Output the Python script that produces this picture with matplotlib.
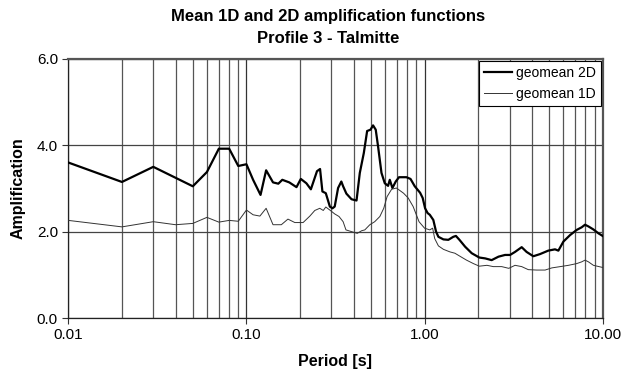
import matplotlib
matplotlib.use("Agg")
import matplotlib.pyplot as plt
from matplotlib.ticker import FixedLocator, FixedFormatter, NullFormatter

plt.rcParams["font.family"] = ["Liberation Sans", "DejaVu Sans"]

# geomean 2D (period [s], amplification)
period_2d = [0.01, 0.02, 0.03, 0.05, 0.06, 0.07, 0.08, 0.09, 0.10, 0.109,
             0.12, 0.129, 0.141, 0.151, 0.159, 0.174, 0.191, 0.202, 0.217, 0.230,
             0.249, 0.259, 0.267, 0.279, 0.294, 0.304, 0.313, 0.327, 0.341, 0.349,
             0.364, 0.389, 0.415, 0.433, 0.456, 0.476, 0.497, 0.514, 0.532, 0.548,
             0.573, 0.598, 0.624, 0.638, 0.660, 0.689, 0.719, 0.791, 0.834, 0.881,
             0.944, 0.976, 1.007, 1.04, 1.07, 1.12, 1.16, 1.196, 1.276, 1.36,
             1.45, 1.50, 1.57, 1.69, 1.84, 2.03, 2.19, 2.38, 2.60, 2.83,
             3.02, 3.22, 3.51, 3.74, 4.08, 4.45, 4.95, 5.40, 5.64, 6.02,
             6.56, 7.15, 7.62, 7.96, 8.32, 8.87, 9.47, 10.0]
amp_2d = [3.60, 3.15, 3.50, 3.05, 3.38, 3.92, 3.92, 3.52, 3.56, 3.20,
          2.85, 3.42, 3.14, 3.11, 3.20, 3.14, 3.03, 3.22, 3.12, 2.98,
          3.40, 3.45, 2.93, 2.89, 2.58, 2.54, 2.58, 3.01, 3.16, 3.05,
          2.88, 2.75, 2.72, 3.36, 3.82, 4.33, 4.36, 4.46, 4.36, 3.98,
          3.36, 3.12, 3.06, 3.20, 3.01, 3.16, 3.26, 3.26, 3.22, 3.05,
          2.90, 2.78, 2.54, 2.43, 2.39, 2.27, 2.00, 1.88, 1.82, 1.81,
          1.88, 1.90, 1.81, 1.65, 1.50, 1.40, 1.38, 1.34, 1.42, 1.46,
          1.46, 1.53, 1.64, 1.53, 1.43, 1.48, 1.56, 1.59, 1.56, 1.77,
          1.92, 2.04, 2.10, 2.16, 2.12, 2.05, 1.96, 1.90]

# geomean 1D
period_1d = [0.01, 0.02, 0.03, 0.04, 0.05, 0.06, 0.07, 0.08, 0.09, 0.10,
             0.109, 0.119, 0.129, 0.141, 0.157, 0.171, 0.187, 0.208, 0.227, 0.242,
             0.258, 0.270, 0.279, 0.296, 0.313, 0.331, 0.349, 0.362, 0.389, 0.419,
             0.443, 0.462, 0.493, 0.525, 0.561, 0.590, 0.616, 0.653, 0.695, 0.762,
             0.809, 0.863, 0.931, 1.0, 1.07, 1.11, 1.14, 1.196, 1.276, 1.39,
             1.48, 1.58, 1.72, 1.88, 2.03, 2.24, 2.43, 2.71, 2.97, 3.22,
             3.51, 3.82, 4.26, 4.75, 5.18, 5.78, 6.43, 7.15, 7.62, 7.96,
             8.32, 8.87, 10.0]
amp_1d = [2.26, 2.11, 2.23, 2.16, 2.19, 2.33, 2.22, 2.26, 2.24, 2.50,
          2.39, 2.36, 2.54, 2.16, 2.16, 2.29, 2.21, 2.21, 2.36, 2.49,
          2.54, 2.49, 2.57, 2.49, 2.41, 2.35, 2.23, 2.04, 2.00, 1.96,
          2.02, 2.04, 2.16, 2.23, 2.35, 2.54, 2.81, 2.98, 3.01, 2.89,
          2.78, 2.58, 2.23, 2.08, 2.04, 2.08, 1.84, 1.67, 1.59, 1.53,
          1.50, 1.43, 1.34, 1.26, 1.20, 1.22, 1.19, 1.19, 1.15, 1.22,
          1.19, 1.12, 1.11, 1.11, 1.16, 1.19, 1.22, 1.26, 1.30, 1.34,
          1.30, 1.22, 1.17]

x_ticks = [0.01, 0.1, 1.0, 10.0]
x_tick_labels = ["0.01", "0.10", "1.00", "10.00"]
y_ticks = [0.0, 2.0, 4.0, 6.0]
y_tick_labels = ["0.0", "2.0", "4.0", "6.0"]

fig = plt.figure(figsize=(6.21, 3.75), dpi=100)
ax = fig.add_axes([0.110, 0.152, 0.8605, 0.691])

ax.plot(period_2d, amp_2d, color="black", linewidth=1.6, label="geomean 2D", zorder=3)
ax.plot(period_1d, amp_1d, color="#333333", linewidth=0.7, label="geomean 1D", zorder=3)

ax.set_xscale("log")
ax.set_xlim(0.01, 10)
ax.set_ylim(0, 6)

ax.xaxis.set_major_locator(FixedLocator(x_ticks))
ax.xaxis.set_major_formatter(FixedFormatter(x_tick_labels))
minor = [m * d for d in (0.01, 0.1, 1.0) for m in range(2, 10)]
ax.xaxis.set_minor_locator(FixedLocator(minor))
ax.xaxis.set_minor_formatter(NullFormatter())
ax.set_yticks(y_ticks)
ax.set_yticklabels(y_tick_labels)

ax.grid(True, which="major", axis="x", color="#333333", linewidth=0.9)
ax.grid(True, which="minor", axis="x", color="#555555", linewidth=0.9)
ax.grid(True, which="major", axis="y", color="#444444", linewidth=0.9)
ax.tick_params(axis="x", which="minor", length=0)
ax.tick_params(axis="both", which="major", length=4, labelsize=11, color="#333333")

for side in ("top", "right"):
    ax.spines[side].set_color("#555555")
    ax.spines[side].set_linewidth(1.6)
for side in ("left", "bottom"):
    ax.spines[side].set_color("#222222")
    ax.spines[side].set_linewidth(0.9)

ax.set_xlabel("Period [s]", fontsize=11.5, fontweight="bold", labelpad=8)
ax.set_ylabel("Amplification", fontsize=11.5, fontweight="bold", labelpad=8)
fig.text(0.528, 0.975, "Mean 1D and 2D amplification functions\nProfile 3 - Talmitte",
         ha="center", va="top", fontsize=12, fontweight="bold", linespacing=1.55)

leg = ax.legend(loc="upper right", fontsize=10, frameon=True, fancybox=False,
                edgecolor="black", framealpha=1, borderaxespad=0.15,
                handlelength=2.0, handletextpad=0.3, borderpad=0.35)
leg.get_frame().set_linewidth(0.8)

fig.savefig("out.png", dpi=100)
